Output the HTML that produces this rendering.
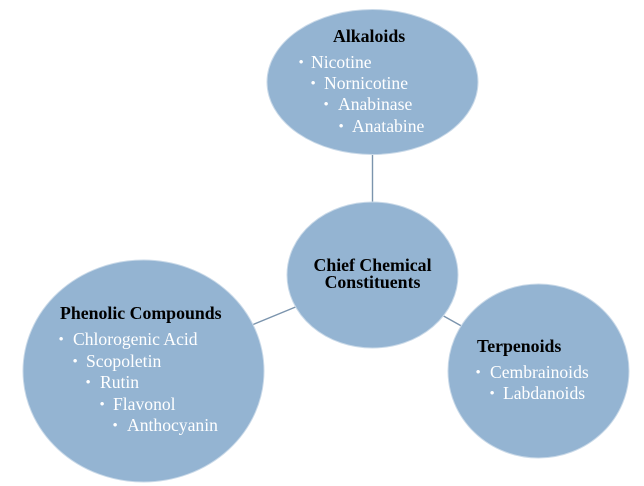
<!DOCTYPE html>
<html>
<head>
<meta charset="utf-8">
<style>
  html, body { margin:0; padding:0; background:#ffffff; }
  svg { display:block; }
  text { font-family:"Liberation Serif", "Times New Roman", Times, "DejaVu Serif", serif; }
</style>
</head>
<body>
<svg width="644" height="486" viewBox="0 0 644 486" xmlns="http://www.w3.org/2000/svg">
  <!-- connectors -->
  <g stroke="#7b94ad" stroke-width="1.4" fill="none">
    <line x1="372.5" y1="150" x2="372.5" y2="205"/>
    <line x1="252" y1="325" x2="298" y2="306"/>
    <line x1="440" y1="314" x2="465" y2="328"/>
  </g>
  <!-- nodes -->
  <g fill="#94b4d2" stroke="#c9d9e8" stroke-width="1">
    <ellipse cx="372.5" cy="82" rx="105.5" ry="72.5"/>
    <ellipse cx="372.5" cy="275" rx="85.5" ry="73"/>
    <ellipse cx="143.5" cy="371" rx="120.5" ry="111"/>
    <ellipse cx="538.5" cy="371" rx="90.5" ry="87"/>
  </g>

  <g font-family="Liberation Serif, Times New Roman, DejaVu Serif, serif">
  <!-- Alkaloids -->
  <g font-weight="bold" font-size="17.8" fill="#000000">
    <text x="333" y="42">Alkaloids</text>
    <text x="372.5" y="271" text-anchor="middle">Chief Chemical</text>
    <text x="372.5" y="288" text-anchor="middle">Constituents</text>
    <text x="60" y="319">Phenolic Compounds</text>
    <text x="477" y="352">Terpenoids</text>
  </g>

  <g font-size="17.6" fill="#ffffff">
    <text x="311" y="68">Nicotine</text>
    <text x="324" y="89">Nornicotine</text>
    <text x="338" y="110">Anabinase</text>
    <text x="352" y="132">Anatabine</text>

    <text x="73" y="345">Chlorogenic Acid</text>
    <text x="86" y="367">Scopoletin</text>
    <text x="100" y="388">Rutin</text>
    <text x="113" y="410">Flavonol</text>
    <text x="127" y="431">Anthocyanin</text>

    <text x="490" y="378">Cembrainoids</text>
    <text x="503" y="399">Labdanoids</text>
  </g>

  <g font-size="15" fill="#ffffff">
    <text x="298.5" y="67">•</text>
    <text x="310.5" y="88">•</text>
    <text x="323.5" y="109">•</text>
    <text x="338.5" y="131">•</text>

    <text x="58.5" y="344">•</text>
    <text x="72.5" y="366">•</text>
    <text x="85.5" y="387">•</text>
    <text x="99.5" y="409">•</text>
    <text x="112.5" y="430">•</text>

    <text x="475.5" y="377">•</text>
    <text x="489.5" y="398">•</text>
  </g>
  </g>
</svg>
</body>
</html>
